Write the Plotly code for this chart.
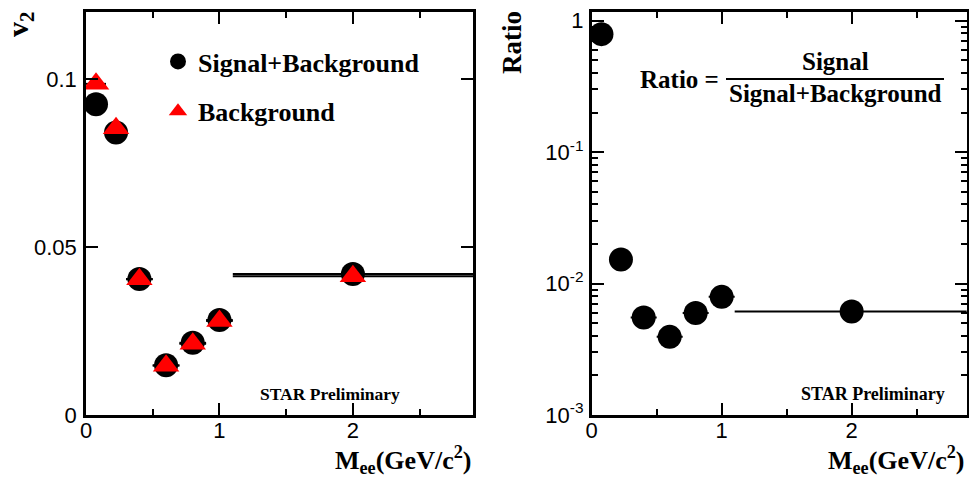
import plotly.graph_objects as go

# ---- data ----
mass = [0.075, 0.225, 0.4, 0.6, 0.8, 1.0, 2.0]
mass_halfwidth = [0.075, 0.075, 0.1, 0.1, 0.1, 0.1, 0.9]
v2_sig_bkg = [0.0925, 0.0841, 0.0405, 0.0148, 0.0215, 0.0283, 0.0420]
v2_bkg = [0.0986, 0.0854, 0.0404, 0.0147, 0.0212, 0.0280, 0.0413]
ratio = [0.79, 0.01524, 0.00552, 0.00393, 0.00596, 0.00792, 0.00612]

v2_tickvals = [0, 0.05, 0.1]
v2_ticktext = ["0", "0.05", "0.1"]
ratio_tickvals = [0.001, 0.01, 0.1, 1]
ratio_ticktext = ["10<sup>-3</sup>", "10<sup>-2</sup>", "10<sup>-1</sup>", "1"]
ratio_minor = [m * 10.0 ** e for e in (-3, -2, -1, 0) for m in range(2, 10)]

SERIF = "Liberation Serif"
SANS = "Liberation Sans"

fig = go.Figure()

ex = dict(type="data", array=mass_halfwidth, symmetric=True, color="black",
          thickness=2, width=0)

fig.add_trace(go.Scatter(
    x=mass, y=v2_sig_bkg, mode="markers", name="Signal+Background",
    legendgroup="a",
    marker=dict(symbol="circle", size=24, color="black"),
    error_x=ex, xaxis="x", yaxis="y"))
fig.add_trace(go.Scatter(
    x=mass, y=v2_bkg, mode="markers", name="Background",
    legendgroup="b",
    marker=dict(symbol="triangle-up", size=23, color="red"),
    error_x=ex, xaxis="x", yaxis="y"))
fig.add_trace(go.Scatter(
    x=mass, y=ratio, mode="markers", name="Ratio", showlegend=False,
    marker=dict(symbol="circle", size=24, color="black"),
    error_x=ex, xaxis="x2", yaxis="y2"))

W, H = 969, 479
ax_common = dict(showgrid=False, zeroline=False, showline=True, linewidth=2.6,
                 linecolor="black", mirror="allticks", ticks="inside",
                 ticklen=12, tickwidth=1.5, tickcolor="black", automargin=False,
                 tickfont=dict(family=SANS, size=22, color="black"))
minor_x = dict(dtick=0.5, ticks="inside", ticklen=6, tickwidth=1.5,
               tickcolor="black")

fig.update_layout(
    width=W, height=H,
    margin=dict(l=0, r=0, t=0, b=0, pad=0, autoexpand=False),
    paper_bgcolor="white", plot_bgcolor="white",
    xaxis=dict(domain=[86 / W, 473 / W], range=[0, 2.9], tick0=0, dtick=1,
               minor=minor_x, anchor="y", ticklabelstandoff=-6, **ax_common),
    yaxis=dict(domain=[1 - 415 / H, 1 - 12 / H], range=[0, 0.12],
               tickvals=v2_tickvals, ticktext=v2_ticktext, anchor="x",
               ticklabelstandoff=2, **ax_common),
    xaxis2=dict(domain=[591.7 / W, 966.7 / W], range=[0, 2.885], tick0=0, dtick=1,
                minor=minor_x, anchor="y2", ticklabelstandoff=-6, **ax_common),
    yaxis2=dict(domain=[1 - 415 / H, 1 - 12 / H], type="log", range=[-3, 0.066],
                tickvals=ratio_tickvals, ticktext=ratio_ticktext,
                minor=dict(tickvals=ratio_minor, ticks="inside", ticklen=6,
                           tickwidth=1.5, tickcolor="black"),
                anchor="x2", ticklabelstandoff=1, **ax_common),
    showlegend=True,
    legend=dict(x=158 / W, y=1 - 38 / H, xanchor="left", yanchor="top",
                bgcolor="rgba(0,0,0,0)", borderwidth=0,
                font=dict(family=SERIF, size=26, color="black", weight="bold"),
                tracegroupgap=13, itemwidth=30),
)

def txt(x, y, text, size, xanchor="center", yanchor="middle", angle=0):
    fig.add_annotation(x=x / W, y=1 - y / H, xref="paper", yref="paper",
                       text=text, showarrow=False, xanchor=xanchor,
                       yanchor=yanchor, textangle=angle,
                       font=dict(family=SERIF, size=size, color="black",
                                 weight="bold"))

# axis titles
txt(20, 24, "v<sub>2</sub>", 30, angle=-90)
txt(512, 42, "Ratio", 27, angle=-90)
txt(473, 460, "M<sub>ee</sub>(GeV/c<sup>2</sup>)", 26, xanchor="right")
txt(966, 460, "M<sub>ee</sub>(GeV/c<sup>2</sup>)", 26, xanchor="right")

# STAR preliminary labels
txt(402, 394, "STAR Preliminary", 17.5, xanchor="right")
txt(947, 394, "STAR Preliminary", 18, xanchor="right")

# Ratio formula
txt(721, 79, "Ratio =", 25, xanchor="right")
txt(835, 62, "Signal", 25)
txt(835, 93, "Signal+Background", 25)
fig.add_shape(type="line", xref="paper", yref="paper",
              x0=726 / W, x1=944 / W, y0=1 - 79 / H, y1=1 - 79 / H,
              line=dict(color="black", width=2))

fig.write_html("out.html",
               config={"displayModeBar": False},
               post_script="document.body.style.margin='0';"
                           "document.body.style.overflow='hidden';")
